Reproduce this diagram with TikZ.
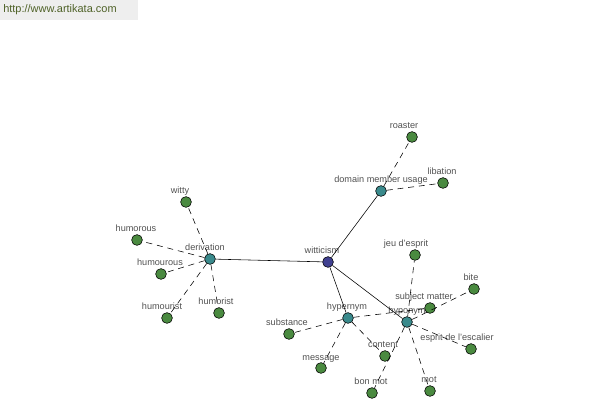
\documentclass[tikz,border=0pt]{standalone}
\usepackage{fontspec}
\setmainfont{Liberation Sans}
\usetikzlibrary{positioning}
\definecolor{leafgreen}{RGB}{74, 138, 64}
\definecolor{hubteal}{RGB}{58, 138, 140}
\definecolor{rootblue}{RGB}{64, 64, 144}
\definecolor{labelgray}{RGB}{80, 80, 80}
\definecolor{headgray}{RGB}{238, 238, 238}
\definecolor{headgreen}{RGB}{79, 98, 40}

\begin{document}
\begin{tikzpicture}[
        x=0.025cm, y=-0.025cm,
        dot/.style={
            circle,
            draw=black,
            line width=0.4pt,
            inner sep=0pt,
            minimum size=0.27cm
        },
        leaf/.style={dot, fill=leafgreen},
        hub/.style={dot, fill=hubteal},
        root/.style={dot, fill=rootblue},
        lbl/.style={
            anchor=base,
            inner sep=0pt,
            text=labelgray,
            font=\fontsize{6.5}{7.8}\selectfont
        },
        link/.style={line width=0.4pt},
        weak/.style={line width=0.4pt, dash pattern=on 0.15cm off 0.12cm}
    ]
        \useasboundingbox (0,0) rectangle (600,400);
        \fill[headgray] (0,0) rectangle (138,20);
        \node[anchor=west, inner sep=0pt, text=headgreen,
            font=\fontsize{7.8}{9}\selectfont]
            (site) at (3,10) {http://www.artikata.com};

        % centre and hubs
        \node[root] (witticism) at (328,262) {};
        \node[lbl] (witticism-t) at (322,254) {witticism};
        \foreach \nm/\x/\y/\dx/\txt in {
            derivation/210/259/-5/derivation,
            domain/381/191/0/domain member usage,
            hypernym/348/318/-1/hypernym,
            hyponym/407/322/0/hyponym} {
            \node[hub] (\nm) at (\x,\y) {};
            \node[lbl] (\nm-t) at (\x+\dx,\y-8) {\txt};
        }

        % leaves
        \foreach \nm/\x/\y/\dx/\txt in {
            witty/186/202/-6/witty,
            humorous/137/240/-1/humorous,
            humourous/161/274/-1/humourous,
            humourist/167/318/-5/humourist,
            humorist/219/313/-3/humorist,
            roaster/412/137/-8/roaster,
            libation/443/183/-1/libation,
            substance/289/334/-2/substance,
            message/321/368/0/message,
            content/385/356/-2/content,
            subject/430/308/-6/subject matter,
            jeu/415/255/-9/jeu d'esprit,
            bite/474/289/-3/bite,
            escalier/471/349/-14/esprit de l'escalier,
            mot/430/391/-1/mot,
            bonmot/372/393/-1/bon mot} {
            \node[leaf] (\nm) at (\x,\y) {};
            \node[lbl] (\nm-t) at (\x+\dx,\y-8) {\txt};
        }

        \foreach \b in {derivation, domain, hypernym, hyponym}
            \draw[link] (witticism) -- (\b);
        \foreach \a/\b in {
            derivation/witty, derivation/humorous, derivation/humourous,
            derivation/humourist, derivation/humorist,
            domain/roaster, domain/libation,
            hypernym/substance, hypernym/message, hypernym/content,
            hypernym/subject,
            hyponym/jeu, hyponym/bite, hyponym/escalier,
            hyponym/mot, hyponym/bonmot}
            \draw[weak] (\a) -- (\b);
    \end{tikzpicture}
\end{document}
